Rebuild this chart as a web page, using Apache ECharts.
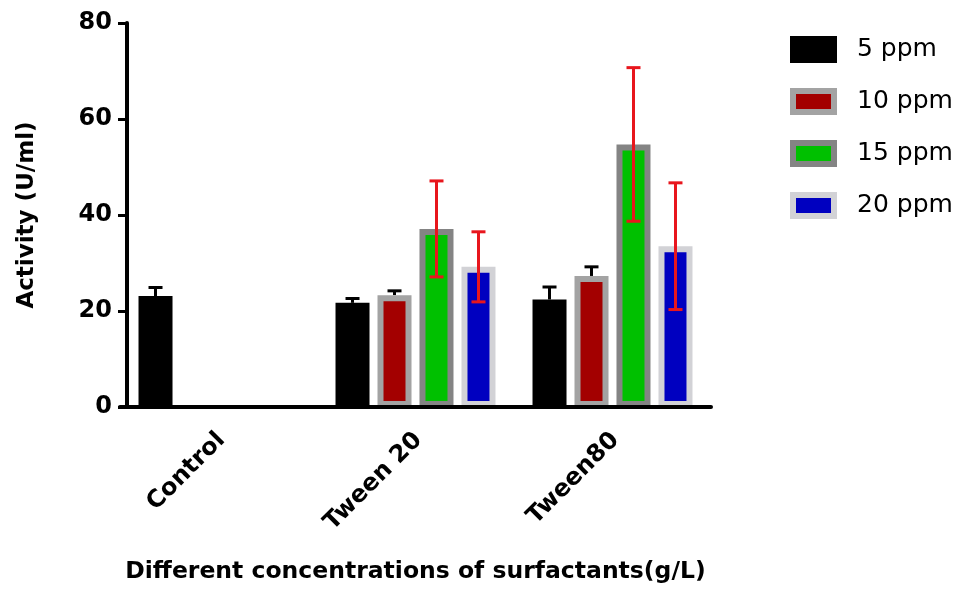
<!DOCTYPE html>
<html>
<head>
<meta charset="utf-8">
<title>Activity by surfactant</title>
<script src="https://cdn.jsdelivr.net/npm/echarts@6.0.0/dist/echarts.min.js"></script>
<style>
  html, body { margin: 0; padding: 0; background: #fff; }
  #chart { width: 966px; height: 589px; }
</style>
</head>
<body>
<div id="chart"></div>
<script>
// data (mean, SD)
const categories = ['Control', 'Tween 20', 'Tween80']
const seriesNames = ['5 ppm', '10 ppm', '15 ppm', '20 ppm']
const ppm5 = [23.1, 21.7, 22.4]
const ppm10 = [null, 23.3, 27.3]
const ppm15 = [null, 37.1, 54.7]
const ppm20 = [null, 29.2, 33.5]
const err5 = [1.8, 0.9, 2.6]
const err10 = [null, 0.9, 1.9]
const err15 = [null, 10.0, 16.0]
const err20 = [null, 7.3, 13.2]
const yTicks = [0, 20, 40, 60, 80]

const FONT = 'DejaVu Sans'
const BAR_W = 34
const BAR_GAP = '23.5%'

// fill / border per series, GraphPad style
const fills = ['#000000', '#a30000', '#00c000', '#0000c0']
const borders = ['#000000', '#a3a3a3', '#848484', '#d2d2d6']
const errColors = ['#000000', '#000000', '#e8161d', '#e8161d']
const errBoth = [false, false, true, true]

const means = [ppm5, ppm10, ppm15, ppm20]
const errs = [err5, err10, err15, err20]

function errorBars(idx) {
  return function (params, api) {
    const cat = api.value(0)
    const val = api.value(1)
    const err = api.value(2)
    const layout = api.barLayout({ count: 4, barWidth: BAR_W, barGap: BAR_GAP })
    const base = api.coord([cat, val])
    const x = base[0] + layout[idx].offsetCenter
    const top = api.coord([cat, val + err])[1]
    const bottom = errBoth[idx] ? api.coord([cat, val - err])[1] : base[1]
    const half = 7
    const style = { stroke: errColors[idx], lineWidth: 3 }
    const children = [
      { type: 'line', shape: { x1: x, y1: top, x2: x, y2: bottom }, style: style },
      { type: 'line', shape: { x1: x - half, y1: top, x2: x + half, y2: top }, style: style }
    ]
    if (errBoth[idx]) {
      children.push({ type: 'line', shape: { x1: x - half, y1: bottom, x2: x + half, y2: bottom }, style: style })
    }
    return { type: 'group', children: children }
  }
}

const barSeries = seriesNames.map((name, i) => ({
  name: name,
  type: 'bar',
  barWidth: BAR_W,
  barGap: BAR_GAP,
  z: 2,
  itemStyle: { color: fills[i], borderColor: borders[i], borderWidth: 6 },
  data: means[i]
}))

const errSeries = seriesNames.map((name, i) => ({
  name: name + ' SD',
  type: 'custom',
  z: errBoth[i] ? 5 : 1,
  renderItem: errorBars(i),
  data: categories
    .map((c, k) => [k, means[i][k], errs[i][k]])
    .filter(d => d[1] != null)
}))

const chart = echarts.init(document.getElementById('chart'))

chart.setOption({
  animation: false,
  backgroundColor: '#fff',
  grid: {
    left: 120,
    right: 255,
    top: 23,
    bottom: 182
  },
  legend: {
    data: seriesNames,
    orient: 'vertical',
    left: 790,
    top: 36,
    padding: 0,
    icon: 'rect',
    itemWidth: 41,
    itemHeight: 21,
    itemGap: 25,
    itemStyle: { borderWidth: 6 },
    textStyle: {
      fontFamily: FONT,
      fontSize: 25,
      color: '#000',
      lineHeight: 21,
      padding: [0, 0, 0, 18]
    }
  },
  xAxis: {
    type: 'category',
    data: categories,
    z: 10,
    name: 'Different concentrations of surfactants(g/L)',
    nameLocation: 'middle',
    nameGap: 153,
    nameTextStyle: { fontFamily: FONT, fontSize: 23.5, fontWeight: 'bold', color: '#000' },
    axisLine: { lineStyle: { color: '#000', width: 4 } },
    axisTick: { alignWithLabel: true, length: 10, lineStyle: { color: '#000', width: 3 } },
    axisLabel: {
      interval: 0,
      rotate: 45,
      align: 'right',
      verticalAlign: 'top',
      padding: [1, 9, 0, 0],
      margin: 14,
      fontFamily: FONT,
      fontSize: 24,
      fontWeight: 'bold',
      color: '#000'
    }
  },
  yAxis: {
    type: 'value',
    min: yTicks[0],
    max: yTicks[yTicks.length - 1],
    interval: 20,
    offset: -7,
    z: 10,
    name: 'Activity (U/ml)',
    nameLocation: 'middle',
    nameRotate: 90,
    nameGap: 88,
    nameTextStyle: { fontFamily: FONT, fontSize: 23, fontWeight: 'bold', color: '#000' },
    splitLine: { show: false },
    axisLine: { show: true, lineStyle: { color: '#000', width: 4 } },
    axisTick: { show: true, length: 9, lineStyle: { color: '#000', width: 3 } },
    axisLabel: {
      margin: 15,
      fontFamily: FONT,
      fontSize: 24,
      fontWeight: 'bold',
      color: '#000'
    }
  },
  series: barSeries.concat(errSeries)
})
</script>
</body>
</html>
